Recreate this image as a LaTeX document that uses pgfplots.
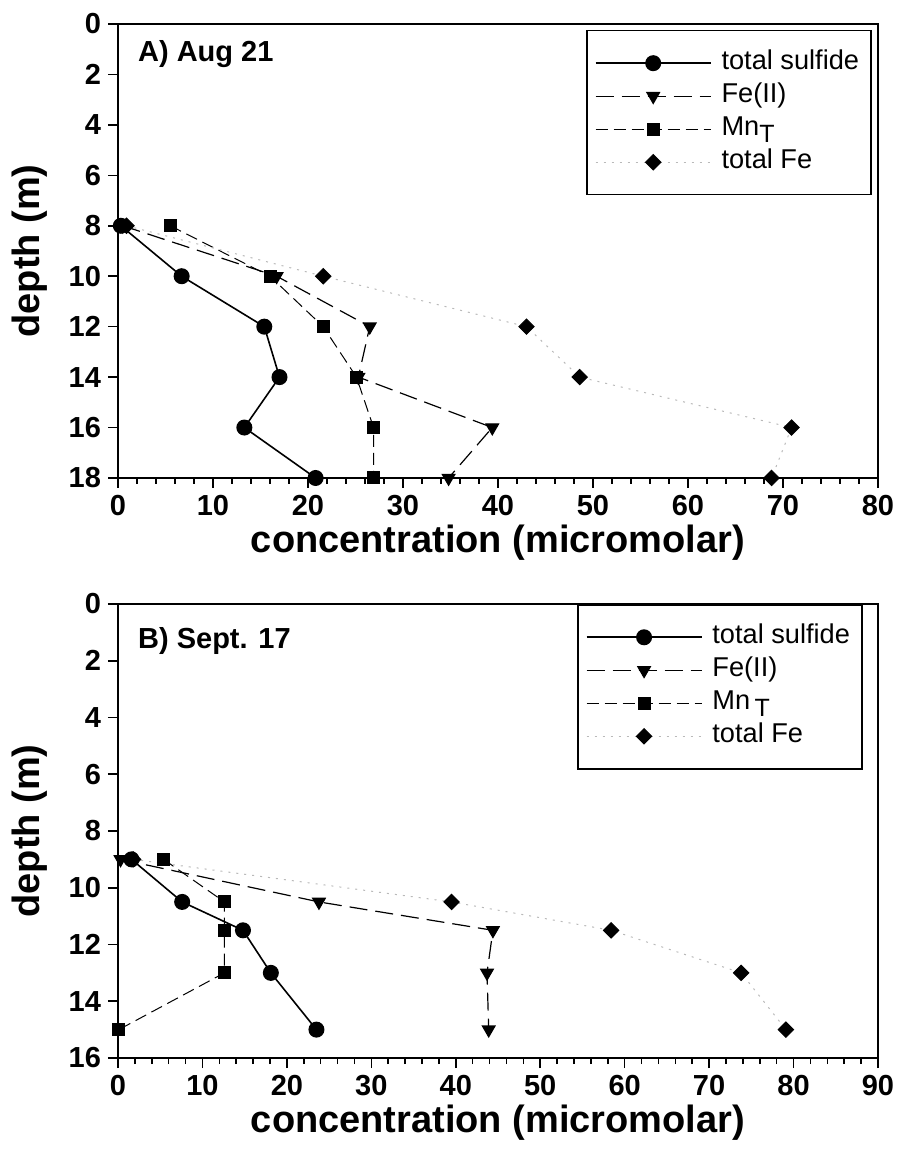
\documentclass[border=0pt]{standalone}
\usepackage{fontspec}
\setmainfont{Liberation Sans}
\usepackage{pgfplots}
\pgfplotsset{compat=1.18}
\pgfplotsset{
  depthstyle/.style={
    width=380pt, height=227pt, scale only axis,
    axis line style={line width=1pt},
    every tick/.style={line width=0.8pt, black},
    major tick length=5pt, minor tick length=3pt,
    xtick align=outside, ytick align=outside,
    xtick pos=left, ytick pos=left,
    minor x tick num=4,
    ticklabel style={font=\fontsize{14.5}{17}\selectfont\bfseries},
    /pgf/number format/assume math mode=true,
    label style={font=\fontsize{19}{22}\selectfont\bfseries},
    xlabel={concentration (micromolar)},
    ylabel={depth (m)},
    xlabel style={at={(axis description cs:0.5,-0.142)}, anchor=center, inner sep=0pt},
    ylabel style={at={(axis description cs:-0.116,0.5)}, anchor=center, inner sep=0pt},
    legend style={anchor=north east, draw=black, line width=0.8pt,
      font=\fontsize{13.6}{15}\selectfont, cells={anchor=west},
      inner xsep=4pt, inner ysep=8pt, row sep=0pt,
      nodes={text height=9.5pt, text depth=3pt, inner ysep=2pt}},
    /tikz/every odd column/.append style={column sep=3pt},
    legend image code/.code={\draw[mark repeat=2,mark phase=2,##1] plot coordinates {(0pt,0pt)(28.75pt,0pt)(57.5pt,0pt)};},
  },
  sulf/.style={black, line width=0.8pt, solid, mark=*, mark size=3.6pt},
  fe2/.style={black, line width=0.6pt, dash pattern=on 9pt off 4pt, mark=triangle*, mark size=3.6pt, mark options={solid, rotate=180}},
  mnt/.style={black, line width=0.5pt, dash pattern=on 6pt off 3pt, mark=square*, mark size=3pt, mark options={solid}},
  tfe/.style={gray!55, line width=0.5pt, dash pattern=on 1pt off 3pt, mark=square*, mark size=2.7pt, mark options={solid, rotate=45, black, fill=black}},
}
\begin{document}
\begin{tikzpicture}[x=1pt,y=1pt]
\begin{axis}[depthstyle, at={(59pt,338.5pt)}, anchor=south west,
  xmin=0, xmax=80, xtick={0,10,...,80},
  ymin=-18, ymax=0, ytick={-18,-16,...,0}, yticklabels={18,16,14,12,10,8,6,4,2,0},
  legend style={at={(axis description cs:0.992,0.987)}}]
\addplot[sulf] coordinates {(0.3,-8)(6.7,-10)(15.4,-12)(17.0,-14)(13.3,-16)(20.8,-18)};
\addlegendentry{total sulfide}
\addplot[fe2] coordinates {(0.5,-8)(16.7,-10)(26.5,-12)(25.3,-14)(39.4,-16)(34.8,-18)};
\addlegendentry{Fe(II)}
\addplot[mnt] coordinates {(5.5,-8)(16.0,-10)(21.6,-12)(25.1,-14)(26.9,-16)(26.9,-18)};
\addlegendentry{Mn\raisebox{-0.45ex}{\fontsize{12.5}{13}\selectfont T}}
\addplot[tfe] coordinates {(0.9,-8)(21.6,-10)(43.0,-12)(48.6,-14)(70.9,-16)(68.8,-18)};
\addlegendentry{total Fe}
\node[anchor=west, inner sep=0pt, font=\fontsize{14.5}{16}\selectfont\bfseries] at (axis description cs:0.026,0.934) {A) Aug 21};
\end{axis}
\begin{axis}[depthstyle, at={(59pt,48.5pt)}, anchor=south west,
  xmin=0, xmax=90, xtick={0,10,...,90},
  ymin=-16, ymax=0, ytick={-16,-14,...,0}, yticklabels={16,14,12,10,8,6,4,2,0},
  legend style={at={(axis description cs:0.980,1.0)}}]
\addplot[sulf] coordinates {(1.6,-9)(7.6,-10.5)(14.8,-11.5)(18.1,-13)(23.5,-15)};
\addlegendentry{total sulfide}
\addplot[fe2] coordinates {(0.3,-9)(23.8,-10.5)(44.4,-11.5)(43.7,-13)(43.9,-15)};
\addlegendentry{Fe(II)}
\addplot[mnt] coordinates {(5.4,-9)(12.6,-10.5)(12.6,-11.5)(12.6,-13)(0.1,-15)};
\addlegendentry{Mn\,\raisebox{-0.45ex}{\fontsize{12.5}{13}\selectfont T}}
\addplot[tfe] coordinates {(1.8,-9)(39.5,-10.5)(58.4,-11.5)(73.8,-13)(79.1,-15)};
\addlegendentry{total Fe}
\node[anchor=west, inner sep=0pt, font=\fontsize{14.5}{16}\selectfont\bfseries] at (axis description cs:0.026,0.918) {B) Sept. 17};
\end{axis}
\pgfresetboundingbox
\useasboundingbox (0,0) rectangle (448pt,577.5pt);
\end{tikzpicture}
\end{document}
